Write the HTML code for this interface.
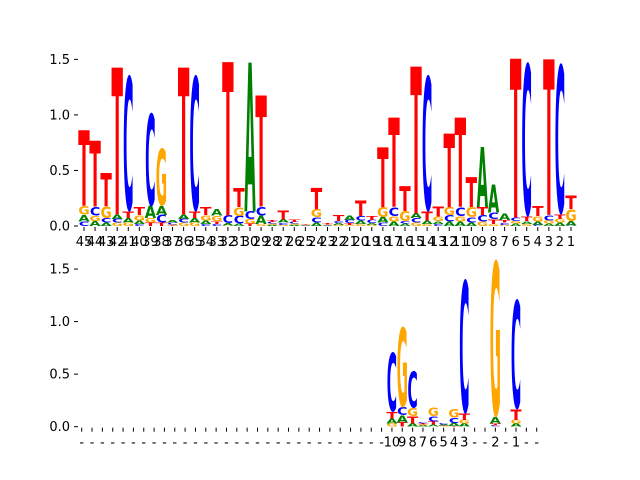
<!DOCTYPE html>
<html><head><meta charset="utf-8">
<style>html,body{margin:0;padding:0;background:#fff}svg{display:block}</style>
</head><body>
<svg id="chart" width="640" height="480" xmlns="http://www.w3.org/2000/svg" font-family="DejaVu Sans, Liberation Sans, sans-serif">
<g id="top"></g>
<g id="bot"></g>
</svg>
<script>
// ---- top panel data (per position, heights in bits) ----
const topLabels = ["45","44","43","42","41","40","39","38","37","36","35","34","33","32","31","30","29","28","27","26","25","24","23","22","21","20","19","18","17","16","15","14","13","12","11","10","9","8","7","6","5","4","3","2","1"];
const topA = [.06,.045,.03,.04,.04,.03,.11,.08,.025,.04,.04,.03,.055,.02,.02,1.34,.075,.01,.03,.01,.005,.03,.005,.015,.04,.03,.015,.05,.04,.02,.045,.03,.025,.04,.04,.03,.54,.25,.06,.02,.025,.03,.02,.03,.04];
const topC = [.04,.08,.04,.035,1.23,.02,.84,.07,.015,.035,1.23,.02,.02,.07,.07,.07,.08,.015,.02,.015,.005,.05,.005,.02,.03,.04,.03,.03,.08,.025,.04,1.23,.02,.06,.08,.05,.06,.06,.02,.03,1.39,.01,.05,1.36,.005];
const topG = [.08,.05,.11,.03,.03,.05,.04,.52,.01,.03,.03,.05,.05,.005,.08,.04,.02,.01,.01,.01,.005,.07,.005,.01,.01,.02,.01,.09,.05,.09,.03,.02,.04,.07,.05,.09,.04,.02,.01,.025,.02,.05,.03,.035,.11];
const topT = [.68,.59,.30,1.32,.06,.07,.03,.03,.005,1.32,.06,.07,.025,1.38,.17,.02,1.0,.015,.08,.02,.005,.19,.01,.05,.015,.14,.035,.54,.8,.22,1.32,.08,.09,.66,.8,.27,.07,.04,.025,1.43,.04,.09,1.4,.04,.12];
// ---- bottom panel data ----
const botLabels = ["-","-","-","-","-","-","-","-","-","-","-","-","-","-","-","-","-","-","-","-","-","-","-","-","-","-","-","-","-","-","10","9","8","7","6","5","4","3","-","-","2","-","1","-","-"];
const botA = [0,0,0,0,0,0,0,0,0,0,0,0,0,0,0,0,0,0,0,0,0,0,0,0,0,0,0,0,0,0,.05,.07,.03,.01,.02,.01,.03,.03,0,0,.06,0,.03,0,0];
const botC = [0,0,0,0,0,0,0,0,0,0,0,0,0,0,0,0,0,0,0,0,0,0,0,0,0,0,0,0,0,0,.57,.075,.35,.015,.05,.01,.05,1.28,0,0,.01,0,1.05,0,0];
const botG = [0,0,0,0,0,0,0,0,0,0,0,0,0,0,0,0,0,0,0,0,0,0,0,0,0,0,0,0,0,0,.03,.77,.075,.01,.08,.005,.08,.035,0,0,1.5,0,.035,0,0];
const botT = [0,0,0,0,0,0,0,0,0,0,0,0,0,0,0,0,0,0,0,0,0,0,0,0,0,0,0,0,0,0,.06,.04,.07,.01,.03,.005,.005,.06,0,0,.02,0,.1,0,0];
const yTicks = [0, 0.5, 1.0, 1.5];
const yTickLabels = ["0.0","0.5","1.0","1.5"];

const NS = "http://www.w3.org/2000/svg";
const colors = {A:"#008000",C:"#0000ff",G:"#ffa500",T:"#ff0000"};
const inkW = {A:0.95,C:0.80,G:0.85,T:0.97};

function mk(tag, attrs, parent){
  const e = document.createElementNS(NS, tag);
  for (const k in attrs) e.setAttribute(k, attrs[k]);
  parent.appendChild(e); return e;
}

function panel(g, cfg){
  const n = cfg.labels.length;
  const xs = i => cfg.x0 + i * (cfg.x1 - cfg.x0) / (n - 1);
  const ys = v => cfg.yb - v * cfg.unit;
  const step = (cfg.x1 - cfg.x0) / (n - 1);
  yTicks.forEach((t, k) => {
    const ln = mk("line", {x1:74, x2:78, y1:ys(t), y2:ys(t), stroke:"#000", "stroke-width":1}, g);
    
    
    const tx = mk("text", {x:70, y:ys(t)+4.5, "text-anchor":"end", "font-size":13, fill:"#000"}, g);
    
    
    tx.textContent = yTickLabels[k];
  });
  cfg.labels.forEach((lab, i) => {
    const ln = mk("line", {x1:xs(i), x2:xs(i), y1:cfg.yb+1, y2:cfg.yb+5, stroke:"#000", "stroke-width":1}, g);
    
    
    const tx = mk("text", {x:xs(i), y:cfg.yb+20, "text-anchor":"middle", "font-size":13, fill:"#000"}, g);
    
    
    tx.textContent = lab;
  });
  for (let i = 0; i < n; i++) {
    const items = [["A",cfg.A[i]],["C",cfg.C[i]],["G",cfg.G[i]],["T",cfg.T[i]]].filter(d => d[1] > 0);
    items.sort((a,b) => a[1]-b[1]);
    let base = 0;
    items.forEach(([L, h]) => {
      const yb = ys(base), yt = ys(base + h);
      const hp = yb - yt;
      const w = step * cfg.wf * inkW[L];
      const round = (L === "C" || L === "G");
      const capH = round ? 0.755 : 0.729;
      const fs = 100;
      const sy = hp / (capH * fs);
      const off = round ? 0.013 * fs : 0;
      const t = mk("text", {x: 0, y: 0, "font-size": fs, "font-weight": "bold", fill: colors[L], "text-anchor": "middle"}, g);
      
      
      t.textContent = L;
      const ink = {A:72, C:62, G:68, T:64}[L];
      const sx = w / ink;
      t.setAttribute("transform", `translate(${xs(i)},${yb - off*sy}) scale(${sx},${sy})`);
      base += h;
    });
  }
}

panel(document.getElementById("top"), {labels:topLabels, A:topA, C:topC, G:topG, T:topT, x0:84, x1:571, yb:226, unit:111.1, wf:1.0});
panel(document.getElementById("bot"), {labels:botLabels, A:botA, C:botC, G:botG, T:botT, x0:81.7, x1:536.7, yb:426.7, unit:105.1, wf:1.05});
</script>
</body></html>
